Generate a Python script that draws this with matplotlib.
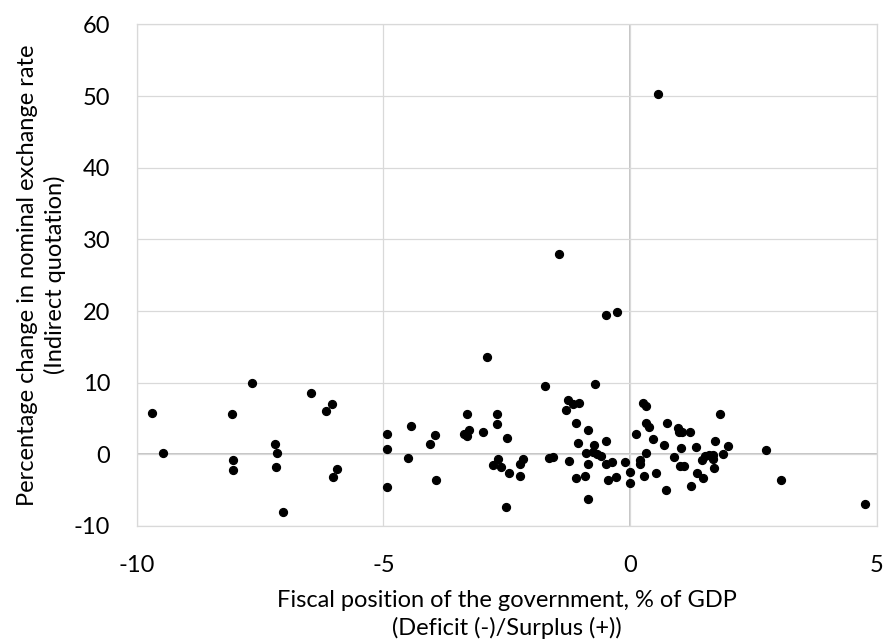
import numpy as np
import matplotlib.pyplot as plt

plt.rcParams['font.family'] = ['Lato', 'DejaVu Sans']
plt.rcParams.update({'font.size': 17, 'axes.unicode_minus': False})

# fiscal position (% of GDP) and change in exchange rate (%)
fiscal = [-9.69, -9.47, -7.66, -8.06, -8.04, -8.04, -7.19, -7.15, -7.18, -7.04,
          -6.47, -6.05, -6.16, -5.93, -6.02, -4.93, -4.92, -4.93,
          -2.90, -4.44, -4.49, -4.06, -3.95, -3.94, -3.31, -3.26, -3.37, -3.31,
          -2.98, -2.70, -2.70, -2.49, -2.68, -2.78, -2.62, -2.45, -2.51, -2.16,
          -2.23, -2.22, -1.73, -1.64, -1.56, -0.70, -1.26, -1.16, -1.03, -1.30,
          -1.09, -0.86, -1.05, -0.72, -0.49, -0.90, -0.74, -0.66, -0.58, -1.23,
          -0.85, -0.49, -0.36, -0.10, -1.10, -0.91, -0.28, -0.44, -0.86,
          0.00, 0.00, 0.26, 0.32, 0.32, 0.39, 0.13, 0.47, 0.32, 0.21, 0.21,
          0.28, 0.52, 0.72, 0.75, 0.69, 0.97, 0.99, 1.06, 1.22, 1.03, 0.90,
          1.01, 1.10, 1.34, 1.24, 1.36, 1.48, 1.45, 1.53, 1.60, 1.69, 1.69,
          1.70, 1.72, 1.83, 1.89, 1.98, 2.75, 3.06, 4.76,
          0.57, -1.44, -0.48, -0.27]
fx_change = [5.76, 0.18, 9.94, 5.67, -0.74, -2.23, 1.44, 0.18, -1.77, -8.09,
             8.60, 7.02, 6.00, -2.00, -3.20, 2.88, 0.74, -4.50,
             13.6, 3.95, -0.51, 1.44, 2.69, -3.63, 5.67, 3.44, 2.88, 2.51,
             3.16, 5.58, 4.18, 2.28, -0.70, -1.49, -1.77, -2.56, -7.30, -0.65,
             -1.39, -3.02, 9.48, -0.51, -0.37, 9.81, 7.63, 7.02, 7.20, 6.14,
             4.32, 3.35, 1.63, 1.35, 1.81, 0.18, 0.28, 0.00, -0.28, -0.88,
             -1.30, -1.39, -1.12, -1.07, -3.25, -3.02, -3.11, -3.63, -6.23,
             -2.47, -4.00, 7.11, 6.74, 4.42, 3.81, 2.79, 2.19, 0.14, -0.84, -1.30,
             -3.02, -2.65, -4.97, 4.42, 1.35, 3.72, 3.11, 3.16, 3.16, 0.88, -0.42,
             -1.58, -1.67, 1.02, -4.42, -2.56, -3.30, -0.79, -0.23, -0.14, -0.09, -0.70,
             -1.91, 1.91, 5.62, 0.09, 1.21, 0.65, -3.63, -6.93,
             50.3, 27.9, 19.4, 19.85]

fig = plt.figure(figsize=(8.84, 6.43), dpi=100)
ax = fig.add_axes([0.1546, 0.182, 0.8371, 0.7799])

ax.grid(True, color='#d9d9d9', linewidth=0.9)
ax.axhline(0, color='#bfbfbf', linewidth=1.3, zorder=1)
ax.axvline(0, color='#bfbfbf', linewidth=1.3, zorder=1)
ax.scatter(fiscal, fx_change, s=32, color='black', zorder=3)

ax.set_xlim(-10, 5)
ax.set_ylim(-10, 60)
ax.set_xticks([-10, -5, 0, 5])
ax.set_yticks(np.arange(-10, 61, 10))
ax.tick_params(axis='x', length=0, pad=21, labelsize=17)
ax.tick_params(axis='y', length=0, pad=19, labelsize=17)
for s in ax.spines.values():
    s.set_color('#d9d9d9')
    s.set_linewidth(0.9)

ax.set_xlabel('Fiscal position of the government, % of GDP\n(Deficit (-)/Surplus (+))',
              fontsize=17, labelpad=10, linespacing=1.35)
ax.set_ylabel('Percentage change in nominal exchange rate\n(Indirect quotation)',
              fontsize=17, labelpad=6, linespacing=1.3)

plt.savefig('out.png', dpi=100)
